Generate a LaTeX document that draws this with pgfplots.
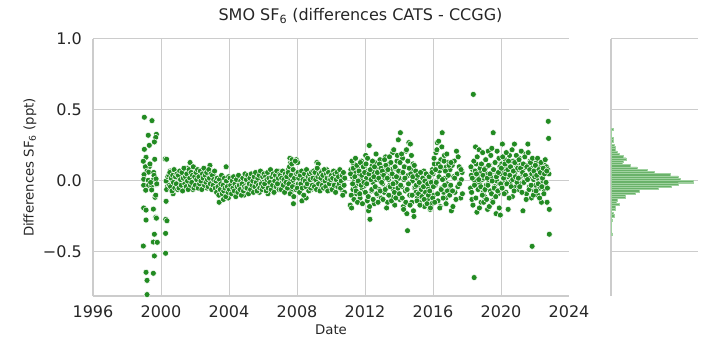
\documentclass[border=0pt]{standalone}
\usepackage{fontspec}
\setmainfont{DejaVu Sans}
\usepackage{pgfplots}
\usepackage{pgfplotstable}
\pgfplotsset{compat=1.18}
\definecolor{dotgreen}{RGB}{34,139,34}
\definecolor{histgreen}{RGB}{106,178,106}
\definecolor{histedge}{RGB}{160,210,160}
\definecolor{gridgray}{RGB}{204,204,204}
\definecolor{txt}{RGB}{38,38,38}

\pgfplotstableread{
x y
1999.02 0.449
1999.47 0.425
1999.25 0.322
1999.73 0.329
1999.69 0.307
1999.31 0.251
1999.61 0.275
1999.02 0.223
1999.12 0.167
1998.96 0.139
1999.63 0.153
1999.31 0.101
1999.08 0.100
1999.18 0.070
1999.27 0.062
1999.57 0.060
1999.00 0.045
1998.98 0.012
1999.25 0.005
1999.55 0.008
1998.98 -0.030
1999.27 -0.030
1999.45 -0.035
1999.73 -0.025
1999.10 -0.065
1999.45 -0.063
1999.65 -0.115
1999.69 -0.100
1998.98 -0.190
1999.12 -0.205
1999.55 -0.198
1999.69 -0.255
1999.73 -0.262
1999.12 -0.275
1999.61 -0.375
1999.55 -0.430
1999.78 -0.432
1998.96 -0.458
1999.61 -0.528
1999.12 -0.643
1999.55 -0.650
1999.18 -0.700
1999.18 -0.800
1999.59 0.040
1999.71 0.015
1999.39 -0.010
1999.35 0.120
1999.75 -0.020
2000.25 0.155
2000.33 0.153
2000.30 -0.143
2000.28 -0.270
2000.35 -0.280
2000.27 -0.369
2000.27 -0.509
2000.30 0.000
2000.38 -0.040
2000.33 -0.060
2000.40 0.030
2000.46 0.04
2000.50 -0.03
2000.54 0.07
2000.58 -0.06
2000.63 0.01
2000.67 0.03
2000.71 -0.09
2000.75 0.05
2000.79 -0.01
2000.83 0.02
2000.88 -0.05
2000.92 0.06
2000.96 -0.02
2001.00 0.02
2001.04 -0.03
2001.08 0.04
2001.13 0.00
2001.17 0.06
2001.21 -0.01
2001.25 0.01
2001.29 -0.05
2001.33 0.03
2001.38 0.05
2001.42 -0.02
2001.46 0.02
2001.50 -0.02
2001.54 0.09
2001.58 0.00
2001.63 0.07
2001.67 -0.04
2001.71 0.13
2001.75 0.04
2001.79 -0.01
2001.83 0.03
2001.88 -0.06
2001.92 0.04
2001.96 0.00
2002.00 0.05
2002.04 -0.01
2002.08 0.02
2002.13 -0.04
2002.17 0.03
2002.21 0.07
2002.25 0.00
2002.29 0.04
2002.33 -0.02
2002.38 0.01
2002.42 0.06
2002.46 -0.03
2002.50 0.02
2002.54 0.08
2002.58 -0.01
2002.63 0.03
2002.67 0.00
2002.71 -0.05
2002.75 0.05
2002.79 0.01
2002.83 0.04
2002.88 0.11
2002.92 -0.02
2002.96 0.02
2003.00 0.03
2003.04 -0.01
2003.08 0.05
2003.13 0.00
2003.17 -0.03
2003.21 0.02
2003.25 -0.05
2003.29 -0.01
2003.33 -0.07
2003.38 0.01
2003.42 -0.15
2003.46 -0.03
2003.50 -0.06
2003.54 0.00
2003.58 -0.04
2003.63 -0.09
2003.67 -0.13
2003.71 -0.02
2003.75 -0.05
2003.79 0.01
2003.83 0.10
2003.88 -0.06
2003.92 -0.03
2003.96 -0.12
2004.00 -0.02
2004.04 0.01
2004.08 -0.05
2004.13 -0.03
2004.17 0.00
2004.21 -0.07
2004.25 -0.01
2004.29 -0.04
2004.33 0.02
2004.38 -0.06
2004.42 -0.02
2004.46 -0.09
2004.50 0.01
2004.54 -0.04
2004.58 -0.03
2004.63 0.03
2004.67 -0.08
2004.71 -0.01
2004.75 -0.05
2004.79 0.02
2004.83 -0.03
2004.88 -0.10
2004.92 0.00
2004.96 -0.04
2005.00 -0.02
2005.04 0.02
2005.08 -0.06
2005.13 0.00
2005.17 -0.03
2005.21 0.03
2005.25 -0.01
2005.29 -0.07
2005.33 0.01
2005.38 -0.04
2005.42 0.04
2005.46 -0.02
2005.50 0.00
2005.54 -0.05
2005.58 0.02
2005.63 -0.01
2005.67 0.05
2005.71 -0.03
2005.75 0.01
2005.79 -0.08
2005.83 0.03
2005.88 -0.02
2005.92 0.06
2005.96 0.00
2006.00 -0.03
2006.04 0.02
2006.08 0.00
2006.13 -0.05
2006.17 0.04
2006.21 -0.01
2006.25 0.01
2006.29 -0.09
2006.33 0.03
2006.38 -0.02
2006.42 0.06
2006.46 0.00
2006.50 -0.04
2006.54 0.02
2006.58 -0.06
2006.63 0.01
2006.67 0.05
2006.71 -0.02
2006.75 0.03
2006.79 -0.03
2006.83 0.00
2006.88 0.07
2006.92 -0.05
2006.96 0.02
2007.00 0.01
2007.04 -0.04
2007.08 0.03
2007.13 -0.01
2007.17 0.05
2007.21 -0.06
2007.25 0.00
2007.29 0.02
2007.33 -0.03
2007.38 0.04
2007.42 -0.02
2007.46 0.01
2007.50 0.08
2007.54 -0.05
2007.58 0.16
2007.63 0.13
2007.67 -0.07
2007.71 0.15
2007.75 0.00
2007.79 -0.16
2007.83 0.06
2007.88 -0.03
2007.92 0.13
2007.96 0.15
2008.00 0.03
2008.04 0.13
2008.08 -0.02
2008.13 0.01
2008.17 -0.05
2008.21 0.04
2008.25 0.00
2008.29 -0.14
2008.33 0.02
2008.38 -0.03
2008.42 0.05
2008.46 -0.01
2008.50 0.01
2008.54 -0.12
2008.58 0.03
2008.63 -0.04
2008.67 0.00
2008.71 0.06
2008.75 -0.02
2008.79 0.02
2008.83 -0.06
2008.88 0.04
2008.92 0.00
2008.96 -0.03
2009.00 0.02
2009.04 -0.02
2009.08 0.05
2009.13 0.00
2009.17 0.13
2009.21 -0.04
2009.25 0.12
2009.29 0.01
2009.33 -0.03
2009.38 0.04
2009.42 -0.01
2009.46 0.07
2009.50 0.00
2009.54 -0.05
2009.58 0.02
2009.63 0.05
2009.67 -0.02
2009.71 0.01
2009.75 0.08
2009.79 -0.03
2009.83 0.03
2009.88 -0.01
2009.92 0.04
2009.96 -0.06
2010.00 0.01
2010.04 0.05
2010.08 -0.02
2010.13 0.03
2010.17 -0.04
2010.21 0.00
2010.25 0.06
2010.29 -0.01
2010.33 0.02
2010.38 -0.05
2010.42 0.04
2010.46 0.00
2010.50 -0.03
2010.54 0.07
2010.58 0.01
2010.63 -0.06
2010.67 0.03
2010.71 -0.02
2010.75 0.05
2010.79 -0.08
2011.13 -0.17
2011.17 0.08
2011.21 -0.19
2011.25 0.03
2011.29 -0.06
2011.33 0.12
2011.38 0.00
2011.42 -0.04
2011.46 0.06
2011.50 -0.09
2011.54 0.02
2011.58 0.10
2011.63 -0.02
2011.67 0.05
2011.71 -0.12
2011.75 0.01
2011.79 0.14
2011.83 -0.05
2011.88 0.04
2011.92 -0.08
2011.96 0.09
2012.00 -0.03
2012.04 0.18
2012.08 0.02
2012.13 -0.14
2012.17 0.07
2012.21 -0.21
2012.25 0.25
2012.29 -0.27
2012.33 0.04
2012.38 -0.07
2012.42 0.11
2012.46 -0.01
2012.50 0.06
2012.54 -0.16
2012.58 0.13
2012.63 -0.04
2012.67 0.01
2012.71 0.09
2012.75 -0.10
2012.79 0.03
2012.83 -0.06
2012.88 0.15
2012.92 0.00
2012.96 -0.12
2013.00 0.05
2013.04 -0.02
2013.08 0.10
2013.13 -0.08
2013.17 0.02
2013.21 0.17
2013.25 -0.05
2013.29 0.07
2013.33 -0.15
2013.38 0.01
2013.42 0.12
2013.46 -0.03
2013.50 0.04
2013.54 -0.11
2013.58 0.08
2013.63 0.20
2013.67 -0.06
2013.71 0.03
2013.75 -0.17
2013.79 0.09
2013.83 -0.01
2013.88 0.14
2013.92 -0.09
2013.96 0.29
2014.00 0.02
2014.04 -0.13
2014.08 0.34
2014.13 0.06
2014.17 -0.04
2014.21 0.16
2014.25 -0.18
2014.29 0.01
2014.33 0.10
2014.38 -0.07
2014.42 0.21
2014.46 -0.23
2014.50 -0.35
2014.54 0.04
2014.58 0.27
2014.63 -0.10
2014.67 0.26
2014.71 0.08
2014.75 -0.15
2014.79 0.00
2014.83 0.12
2014.88 -0.25
2014.92 -0.05
2014.96 0.05
2015.00 -0.08
2015.04 0.02
2015.08 -0.12
2015.13 -0.03
2015.17 0.05
2015.21 -0.15
2015.25 -0.01
2015.29 -0.07
2015.33 0.03
2015.38 -0.10
2015.42 -0.04
2015.46 0.07
2015.50 -0.18
2015.54 -0.02
2015.58 -0.06
2015.63 0.01
2015.67 -0.13
2015.71 -0.05
2015.75 0.04
2015.79 -0.09
2015.83 -0.20
2015.88 0.00
2015.92 -0.16
2015.96 0.08
2016.00 0.05
2016.04 -0.10
2016.08 0.12
2016.13 -0.03
2016.17 0.20
2016.21 0.00
2016.25 0.27
2016.29 -0.14
2016.33 0.28
2016.38 0.07
2016.42 -0.18
2016.46 0.15
2016.50 -0.05
2016.54 0.34
2016.58 0.09
2016.63 -0.08
2016.67 0.18
2016.71 0.02
2016.75 -0.12
2016.79 0.10
2016.83 -0.02
2016.88 0.13
2016.92 0.05
2016.96 -0.06
2017.00 0.08
2017.04 -0.03
2017.08 -0.21
2017.13 0.11
2017.17 -0.18
2017.21 0.03
2017.25 0.14
2017.29 -0.08
2017.38 0.21
2017.42 0.05
2017.46 -0.04
2017.54 0.10
2017.63 -0.12
2017.67 0.01
2017.71 0.06
2018.21 -0.05
2018.25 0.04
2018.29 -0.13
2018.33 0.08
2018.37 0.61
2018.42 -0.68
2018.46 0.00
2018.50 0.24
2018.54 0.12
2018.58 -0.22
2018.63 0.03
2018.67 -0.06
2018.71 0.22
2018.75 -0.02
2018.79 0.06
2018.83 -0.15
2018.88 0.01
2018.92 0.20
2018.96 -0.08
2019.00 0.02
2019.04 -0.11
2019.08 0.09
2019.13 -0.03
2019.17 0.05
2019.21 -0.20
2019.25 0.21
2019.29 -0.01
2019.33 0.11
2019.38 -0.07
2019.42 0.03
2019.46 0.23
2019.50 -0.14
2019.54 0.34
2019.58 0.07
2019.63 -0.04
2019.67 0.13
2019.71 -0.23
2019.75 0.00
2019.79 0.06
2019.83 -0.09
2019.88 0.16
2019.92 -0.02
2019.96 -0.24
2020.00 0.05
2020.04 0.12
2020.08 0.26
2020.13 -0.03
2020.17 0.08
2020.21 0.00
2020.25 0.15
2020.29 -0.08
2020.33 0.10
2020.38 0.03
2020.42 -0.20
2020.46 0.07
2020.50 0.18
2020.54 -0.01
2020.58 0.09
2020.63 0.04
2020.67 -0.11
2020.71 0.14
2020.75 0.02
2020.79 0.26
2020.83 0.06
2020.88 -0.04
2020.92 0.11
2020.96 0.01
2021.00 0.08
2021.04 -0.06
2021.08 0.16
2021.13 0.03
2021.17 -0.02
2021.21 0.12
2021.25 0.05
2021.29 -0.21
2021.33 0.09
2021.38 0.00
2021.42 0.19
2021.46 0.04
2021.50 -0.09
2021.54 0.11
2021.58 0.26
2021.63 0.02
2021.67 -0.04
2021.71 0.14
2021.75 0.07
2021.79 -0.12
2021.83 -0.46
2021.88 0.10
2021.92 0.01
2021.96 -0.07
2022.00 0.06
2022.04 -0.03
2022.08 0.13
2022.13 0.02
2022.17 -0.10
2022.21 0.08
2022.25 0.04
2022.29 -0.05
2022.33 0.10
2022.38 -0.15
2022.42 0.05
2022.46 0.00
2022.50 0.12
2022.54 -0.06
2022.58 0.07
2022.63 -0.02
2022.67 0.10
2022.71 -0.15
2022.75 0.08
2022.78 0.42
2022.80 0.30
2022.84 -0.20
2022.84 -0.375
2022.82 0.05
}\scatterdata

\pgfplotstableread{
x y
2000.52 0.06
2000.56 -0.04
2000.60 0.02
2000.65 -0.07
2000.69 0.04
2000.73 -0.01
2000.77 0.08
2000.81 -0.05
2000.85 0.03
2000.90 -0.02
2000.94 0.05
2000.98 -0.06
2001.02 0.04
2001.06 -0.05
2001.10 0.07
2001.15 0.01
2001.19 -0.03
2001.23 0.06
2001.27 -0.07
2001.31 0.02
2001.35 0.09
2001.40 -0.02
2001.44 0.03
2001.48 -0.04
2001.52 0.05
2001.56 0.00
2001.60 -0.06
2001.65 0.08
2001.69 0.02
2001.73 -0.03
2001.77 0.06
2001.81 -0.01
2001.85 0.04
2001.90 0.10
2001.94 -0.05
2001.98 0.03
2002.02 -0.03
2002.06 0.06
2002.10 0.01
2002.15 0.08
2002.19 -0.05
2002.23 0.03
2002.27 -0.02
2002.31 0.07
2002.35 0.00
2002.40 -0.06
2002.44 0.05
2002.48 0.02
2002.52 0.09
2002.56 -0.03
2002.60 0.04
2002.65 -0.01
2002.69 0.06
2002.73 0.01
2002.77 -0.04
2002.81 0.08
2002.85 0.02
2002.90 -0.02
2002.94 0.05
2002.98 -0.06
2003.02 0.04
2003.06 -0.03
2003.10 0.01
2003.15 0.07
2003.19 -0.05
2003.23 0.00
2003.27 -0.08
2003.31 0.02
2003.35 -0.04
2003.40 -0.10
2003.44 0.01
2003.48 -0.06
2003.52 -0.02
2003.56 0.04
2003.60 -0.09
2003.65 -0.03
2003.69 -0.07
2003.73 0.02
2003.77 -0.05
2003.81 -0.11
2003.85 0.00
2003.90 -0.04
2003.94 -0.08
2003.98 0.03
2004.02 -0.06
2004.06 0.02
2004.10 -0.03
2004.15 -0.09
2004.19 0.00
2004.23 -0.05
2004.27 0.03
2004.31 -0.07
2004.35 -0.02
2004.40 -0.11
2004.44 0.01
2004.48 -0.04
2004.52 -0.08
2004.56 0.04
2004.60 -0.03
2004.65 -0.06
2004.69 0.00
2004.73 -0.10
2004.77 -0.02
2004.81 0.02
2004.85 -0.07
2004.90 -0.04
2004.94 0.05
2004.98 -0.05
2005.02 0.01
2005.06 -0.05
2005.10 0.04
2005.15 -0.09
2005.19 -0.02
2005.23 0.02
2005.27 -0.06
2005.31 0.05
2005.35 -0.03
2005.40 0.00
2005.44 -0.08
2005.48 0.03
2005.52 -0.04
2005.56 0.06
2005.60 -0.01
2005.65 -0.07
2005.69 0.02
2005.73 -0.03
2005.77 0.04
2005.81 -0.05
2005.85 0.07
2005.90 -0.02
2005.94 -0.06
2005.98 0.03
2006.02 -0.04
2006.06 0.05
2006.10 -0.02
2006.15 0.03
2006.19 -0.07
2006.23 0.01
2006.27 0.06
2006.31 -0.05
2006.35 0.02
2006.40 -0.01
2006.44 0.08
2006.48 -0.06
2006.52 0.03
2006.56 -0.03
2006.60 0.05
2006.65 -0.08
2006.69 0.00
2006.73 0.04
2006.77 -0.04
2006.81 0.07
2006.85 -0.02
2006.90 0.02
2006.94 -0.06
2006.98 0.05
2007.02 0.04
2007.06 -0.06
2007.10 0.02
2007.15 0.07
2007.19 -0.03
2007.23 0.01
2007.27 -0.08
2007.31 0.05
2007.35 -0.01
2007.40 0.03
2007.44 -0.05
2007.48 0.06
2007.52 -0.02
2007.56 0.10
2007.60 -0.09
2007.65 0.04
2007.69 0.12
2007.73 -0.04
2007.77 0.08
2007.81 -0.11
2007.85 0.02
2007.90 0.14
2007.94 -0.06
2007.98 0.05
2008.02 -0.05
2008.06 0.06
2008.10 0.02
2008.15 -0.08
2008.19 0.04
2008.23 -0.02
2008.27 0.07
2008.31 -0.05
2008.35 0.01
2008.40 -0.10
2008.44 0.05
2008.48 0.00
2008.52 -0.04
2008.56 0.08
2008.60 -0.02
2008.65 0.03
2008.69 -0.07
2008.73 0.05
2008.77 0.01
2008.81 -0.05
2008.85 0.06
2008.90 -0.03
2008.94 0.02
2008.98 0.07
2009.02 -0.04
2009.06 0.06
2009.10 0.01
2009.15 -0.06
2009.19 0.09
2009.23 0.03
2009.27 -0.02
2009.31 0.05
2009.35 -0.07
2009.40 0.02
2009.44 0.06
2009.48 -0.03
2009.52 0.04
2009.56 -0.05
2009.60 0.08
2009.65 0.00
2009.69 -0.04
2009.73 0.05
2009.77 0.02
2009.81 -0.07
2009.85 0.06
2009.90 -0.02
2009.94 0.03
2009.98 0.01
2010.02 0.04
2010.06 -0.06
2010.10 0.02
2010.15 0.07
2010.19 -0.03
2010.23 0.05
2010.27 -0.08
2010.31 0.01
2010.35 0.06
2010.40 -0.04
2010.44 0.03
2010.48 -0.02
2010.52 0.08
2010.56 -0.05
2010.60 0.00
2010.65 0.04
2010.69 -0.10
2010.73 0.06
2010.77 -0.03
2010.81 0.02
2011.15 0.05
2011.19 -0.10
2011.23 0.14
2011.27 -0.02
2011.31 0.09
2011.35 -0.13
2011.40 0.03
2011.44 0.16
2011.48 -0.07
2011.52 0.11
2011.56 -0.15
2011.60 0.00
2011.65 0.07
2011.69 -0.09
2011.73 0.13
2011.77 -0.03
2011.81 0.04
2011.85 -0.16
2011.90 0.10
2011.94 -0.01
2011.98 0.06
2012.02 -0.08
2012.06 0.12
2012.10 -0.02
2012.15 0.16
2012.19 -0.11
2012.23 0.05
2012.27 -0.18
2012.31 0.08
2012.35 0.01
2012.40 -0.06
2012.44 0.14
2012.48 -0.13
2012.52 0.03
2012.56 0.10
2012.60 -0.04
2012.65 0.19
2012.69 -0.09
2012.73 0.06
2012.77 -0.15
2012.81 0.02
2012.85 0.12
2012.90 -0.07
2012.94 0.09
2012.98 -0.01
2013.02 0.07
2013.06 -0.13
2013.10 0.04
2013.15 0.15
2013.19 -0.06
2013.23 0.11
2013.27 -0.19
2013.31 0.02
2013.35 0.08
2013.40 -0.10
2013.44 0.17
2013.48 -0.04
2013.52 0.13
2013.56 -0.14
2013.60 0.05
2013.65 -0.02
2013.69 0.22
2013.73 -0.08
2013.77 0.10
2013.81 -0.12
2013.85 0.03
2013.90 0.18
2013.94 -0.05
2013.98 0.07
2014.02 -0.09
2014.06 0.13
2014.10 -0.03
2014.15 0.19
2014.19 -0.12
2014.23 0.06
2014.27 -0.20
2014.31 0.10
2014.35 0.02
2014.40 -0.15
2014.44 0.22
2014.48 -0.06
2014.52 0.14
2014.56 -0.02
2014.60 0.09
2014.65 -0.17
2014.69 0.05
2014.73 0.18
2014.77 -0.10
2014.81 0.03
2014.85 -0.21
2014.90 0.11
2014.94 -0.04
2014.98 0.07
2015.02 -0.03
2015.06 -0.14
2015.10 0.04
2015.15 -0.09
2015.19 -0.01
2015.23 -0.17
2015.27 0.06
2015.31 -0.06
2015.35 -0.11
2015.40 0.02
2015.44 -0.04
2015.48 -0.13
2015.52 0.00
2015.56 -0.08
2015.60 0.05
2015.65 -0.16
2015.69 -0.02
2015.73 -0.10
2015.77 0.03
2015.81 -0.07
2015.85 -0.19
2015.90 -0.01
2015.94 0.06
2015.98 -0.12
2016.02 -0.04
2016.06 0.16
2016.10 -0.15
2016.15 0.08
2016.19 -0.01
2016.23 0.22
2016.27 -0.09
2016.31 0.12
2016.35 0.03
2016.40 -0.19
2016.44 0.10
2016.48 -0.06
2016.52 0.24
2016.56 0.01
2016.60 -0.12
2016.65 0.14
2016.69 -0.03
2016.73 0.07
2016.77 -0.16
2016.81 0.19
2016.85 -0.07
2016.90 0.04
2016.94 0.11
2016.98 -0.10
2017.06 0.13
2017.15 -0.07
2017.27 0.02
2017.35 -0.13
2017.48 0.17
2017.56 -0.02
2017.65 0.08
2017.73 -0.09
2018.23 0.10
2018.27 -0.08
2018.31 0.02
2018.35 -0.17
2018.40 0.14
2018.44 -0.03
2018.48 0.07
2018.52 -0.12
2018.56 0.05
2018.60 0.17
2018.65 -0.06
2018.69 0.01
2018.73 -0.19
2018.77 0.09
2018.81 -0.04
2018.85 0.12
2018.90 -0.10
2018.94 0.04
2018.98 -0.15
2019.02 0.08
2019.06 -0.06
2019.10 0.15
2019.15 -0.13
2019.19 0.02
2019.23 -0.03
2019.27 0.11
2019.31 -0.18
2019.35 0.05
2019.40 0.18
2019.44 -0.09
2019.48 0.00
2019.52 -0.15
2019.56 0.08
2019.60 -0.05
2019.65 0.13
2019.69 -0.11
2019.73 0.03
2019.77 0.21
2019.81 -0.07
2019.85 0.06
2019.90 -0.19
2019.94 0.10
2019.98 -0.02
2020.02 0.09
2020.06 -0.05
2020.10 0.17
2020.15 0.02
2020.19 -0.09
2020.23 0.12
2020.27 0.05
2020.31 0.20
2020.35 -0.02
2020.40 0.08
2020.44 0.14
2020.48 -0.12
2020.52 0.04
2020.56 0.10
2020.60 -0.04
2020.65 0.22
2020.69 0.01
2020.73 0.07
2020.77 -0.07
2020.81 0.13
2020.85 0.03
2020.90 0.18
2020.94 -0.01
2020.98 0.09
2021.02 0.02
2021.06 0.15
2021.10 -0.04
2021.15 0.09
2021.19 0.21
2021.23 -0.08
2021.27 0.06
2021.31 0.12
2021.35 -0.01
2021.40 0.17
2021.44 0.04
2021.48 -0.13
2021.52 0.10
2021.56 0.01
2021.60 0.20
2021.65 -0.06
2021.69 0.08
2021.73 0.13
2021.77 -0.03
2021.81 0.05
2021.85 0.16
2021.90 -0.10
2021.94 0.07
2021.98 0.03
2022.02 0.11
2022.06 -0.07
2022.10 0.04
2022.15 0.16
2022.19 -0.02
2022.23 0.08
2022.27 -0.12
2022.31 0.06
2022.35 0.13
2022.40 -0.04
2022.44 0.02
2022.48 0.09
2022.52 -0.09
2022.56 0.05
2022.60 0.15
2022.65 -0.01
2022.69 0.07
2022.73 -0.05
}\scatterdataB

\pgfplotstableread{
len edge
1 -0.380
0 -0.364
0 -0.348
0 -0.332
0 -0.316
0 -0.300
1 -0.284
0 -0.268
3 -0.252
2 -0.236
0 -0.220
4 -0.204
4 -0.188
8 -0.172
5 -0.156
6 -0.140
14 -0.124
14 -0.108
24 -0.092
28 -0.076
47 -0.060
60 -0.044
67 -0.028
82 -0.012
69 0.004
67 0.020
59 0.036
43 0.052
36 0.068
26 0.084
19 0.100
11 0.116
12 0.132
15 0.148
12 0.164
8 0.180
6 0.196
4 0.212
4 0.228
3 0.244
0 0.260
2 0.276
2 0.292
0 0.308
0 0.324
0 0.340
2 0.356
0 0.372
}\histdata

\begin{document}
\begin{tikzpicture}[x=1bp,y=1bp]
\useasboundingbox (0,0) rectangle (720,360);
\begin{axis}[
  at={(93bp,64bp)}, anchor=south west,
  width=476bp, height=257bp, scale only axis,
  xmin=1996, xmax=2024, ymin=-0.81, ymax=1.0,
  xtick={1996,2000,2004,2008,2012,2016,2020},
  xticklabels={1996,2000,2004,2008,2012,2016,2020},
  extra x ticks={2024},
  extra x tick labels={2024},
  extra x tick style={grid=none},
  ytick={-0.5,0,0.5,1.0},
  yticklabels={−0.5,0.0,0.5,1.0},
  major tick length=0pt,
  xmajorgrids, ymajorgrids,
  grid style={draw=gridgray, line width=1bp},
  axis x line*=bottom, axis y line*=left,
  axis line style={-, draw=gridgray, line width=1.25bp},
  xticklabel style={font=\fontsize{16bp}{19bp}\selectfont, text=txt, anchor=north, inner sep=0pt, yshift=-9bp},
  yticklabel style={font=\fontsize{16bp}{19bp}\selectfont, text=txt, anchor=east, inner sep=0pt, xshift=-11bp},
]
\addplot[only marks, mark=*, mark size=3bp, mark options={fill=dotgreen, draw=white, line width=0.5bp}] table[x=x,y=y] {\scatterdata};
\addplot[only marks, mark=*, mark size=3bp, mark options={fill=dotgreen, draw=white, line width=0.5bp}] table[x=x,y=y] {\scatterdataB};
\end{axis}
\begin{axis}[
  at={(611bp,64bp)}, anchor=south west,
  width=87bp, height=257bp, scale only axis,
  xmin=0, xmax=87, ymin=-0.81, ymax=1.0,
  xtick=\empty,
  ytick={-0.5,0,0.5,1.0},
  yticklabels={},
  major tick length=0pt,
  ymajorgrids,
  grid style={draw=gridgray, line width=1bp},
  axis x line=none, axis y line*=left,
  axis line style={-, draw=gridgray, line width=1.25bp},
]
\addplot[xbar interval, fill=histgreen, draw=histedge, line width=0.3bp] table[x=len,y=edge] {\histdata};
\end{axis}
\node[font=\fontsize{16bp}{19bp}\selectfont, text=txt] at (360.5,344) {SMO SF\textsubscript{6} (differences CATS - CCGG)};
\node[font=\fontsize{13.3bp}{16bp}\selectfont, text=txt] at (331,30) {Date};
\node[font=\fontsize{13.3bp}{16bp}\selectfont, text=txt, rotate=90] at (30,192.5) {Differences SF\textsubscript{6} (ppt)};
\end{tikzpicture}
\end{document}
